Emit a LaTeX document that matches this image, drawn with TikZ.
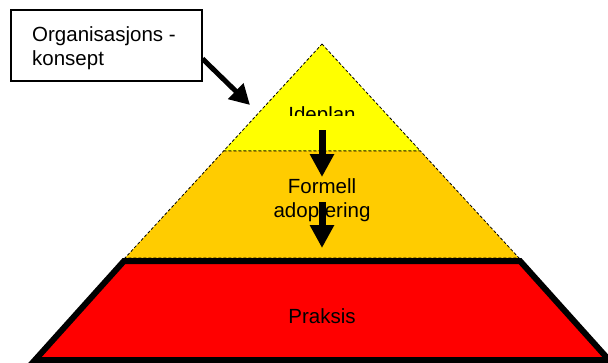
\documentclass[tikz,border=0pt]{standalone}
\usepackage{fontspec}
\setmainfont{Liberation Sans}
\usetikzlibrary{arrows.meta}
\definecolor{ideyellow}{HTML}{FFFF00}
\definecolor{layerorange}{HTML}{FFCC00}
\definecolor{praksisred}{HTML}{FF0000}
\begin{document}
\begin{tikzpicture}[x=1pt,y=-1pt,
  lbl/.style={font=\fontsize{20.5}{24}\selectfont, inner sep=0pt},
  layeredge/.style={draw=black, line width=0.8pt, dash pattern=on 3pt off 2pt},
  bigarrow/.style={line width=7pt, -{Triangle[length=23pt,width=23pt]}},
  conceptarrow/.style={line width=5pt, -{Triangle[length=20pt,width=21pt]}},
]
\useasboundingbox (0,0) rectangle (608,362);
\clip (0,0) rectangle (608,362);
% layers
\path[fill=ideyellow, layeredge] (322,44) -- (420.4,151) -- (223.6,151) -- cycle;
\path[fill=layerorange, layeredge] (223.6,151) -- (420.4,151) -- (519,258) -- (125,258) -- cycle;
\path[fill=praksisred, draw=black, line width=6pt] (124,261) -- (520,261) -- (609,360) -- (35,360) -- cycle;
% labels
\begin{scope}
  \clip (200,0) rectangle (450,115);
  \node[lbl, anchor=base] (ideplan) at (322,121.5) {Ideplan};
\end{scope}
\node[lbl, anchor=base] (formell) at (322,193) {Formell};
\node[lbl, anchor=base] (adopt) at (322,217) {adoptering};
\node[lbl, anchor=base] (praksis) at (322,323) {Praksis};
% concept box
\node[draw, line width=1.5pt, fill=white, minimum width=191pt, minimum height=71pt, inner sep=0pt, anchor=north west] (box) at (10,9) {};
\node[lbl, anchor=base west] (org1) at (32,41) {Organisasjons -};
\node[lbl, anchor=base west] (org2) at (32,65) {konsept};
% arrows
\coordinate (tip) at (250,105);
\draw[conceptarrow] (box.-8.3) -- (tip);
\coordinate (a1s) at (322,130);
\coordinate (a1e) at (322,177);
\coordinate (a2s) at (322,202);
\coordinate (a2e) at (322,248);
\draw[bigarrow] (a1s) -- (a1e);
\draw[bigarrow] (a2s) -- (a2e);
\end{tikzpicture}
\end{document}
